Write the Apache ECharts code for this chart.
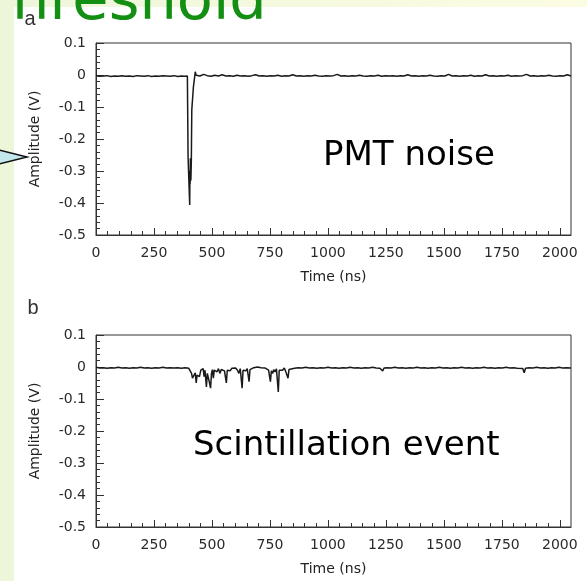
<!DOCTYPE html>
<html>
<head>
<meta charset="utf-8">
<script src="https://cdn.jsdelivr.net/npm/echarts@6/dist/echarts.min.js"></script>
<style>
html, body { margin: 0; padding: 0; }
#main { width: 587px; height: 581px; }
</style>
</head>
<body>
<div id="main"></div>
<script>
// ---- data ----
var majorTicks = [0, 250, 500, 750, 1000, 1250, 1500, 1750, 2000];
var minorTicks = [50, 100, 150, 200, 300, 350, 400, 450, 550, 600, 650, 700, 800, 850, 900, 950,
	1050, 1100, 1150, 1200, 1300, 1350, 1400, 1450, 1550, 1600, 1650, 1700, 1800, 1850, 1900, 1950];
var yTicks = [-0.5, -0.4, -0.3, -0.2, -0.1, 0, 0.1];

// panel a : PMT noise trace [time ns, amplitude V]
var pmtTrace = [
	[0,-0.002],[16,-0.004],[32,-0.003],[48,-0.002],[64,-0.005],[80,-0.003],[96,-0.004],[112,-0.002],
	[128,-0.004],[144,-0.003],[160,-0.005],[176,-0.002],[192,-0.003],[208,-0.004],[224,-0.002],[240,-0.005],
	[256,-0.003],[272,-0.004],[288,-0.002],[304,-0.003],[320,-0.004],[336,-0.002],[352,-0.005],[368,-0.003],
	[384,-0.004],[394,-0.003],[396,-0.004],[397,-0.256],[403,-0.258],[404,-0.406],[405,-0.30],[406,-0.34],
	[407,-0.26],[409,-0.33],[411,-0.27],[413,-0.109],[418,-0.105],[420,-0.037],[426,-0.04],[428,0.01],
	[432,-0.001],[448,-0.003],[464,0.002],[480,-0.002],[496,-0.004],[512,-0.001],[528,-0.003],[544,0.001],
	[560,-0.003],[576,-0.002],[592,-0.004],[608,-0.001],[624,-0.003],[640,-0.002],[656,-0.004],[672,-0.002],
	[688,0.001],[704,-0.003],[720,-0.002],[736,-0.004],[752,-0.002],[768,-0.003],[784,-0.001],[800,-0.004],
	[816,-0.002],[832,-0.003],[848,0.001],[864,-0.003],[880,-0.002],[896,-0.004],[912,-0.002],[928,-0.003],
	[944,-0.001],[960,-0.003],[976,-0.004],[992,-0.002],[1008,-0.003],[1024,-0.002],[1040,0.002],[1056,-0.003],
	[1072,-0.002],[1088,-0.004],[1104,-0.002],[1120,-0.003],[1136,-0.001],[1152,-0.003],[1168,-0.004],[1184,-0.002],
	[1200,-0.003],[1216,-0.001],[1232,-0.004],[1248,-0.002],[1264,-0.003],[1280,-0.002],[1296,-0.004],[1312,-0.002],
	[1328,-0.003],[1344,0.001],[1360,-0.003],[1376,-0.002],[1392,-0.004],[1408,-0.002],[1424,-0.003],[1440,-0.001],
	[1456,-0.003],[1472,-0.004],[1488,-0.002],[1504,-0.003],[1520,0.002],[1536,-0.003],[1552,-0.002],[1568,-0.004],
	[1584,-0.002],[1600,-0.003],[1616,-0.001],[1632,-0.004],[1648,-0.002],[1664,-0.003],[1680,0.001],[1696,-0.003],
	[1712,-0.002],[1728,-0.004],[1744,-0.002],[1760,-0.003],[1776,-0.001],[1792,-0.004],[1808,-0.002],[1824,-0.003],
	[1840,-0.002],[1856,0.002],[1872,-0.003],[1888,-0.002],[1904,-0.004],[1920,-0.002],[1936,-0.003],[1952,-0.001],
	[1968,-0.003],[1984,-0.004],[2000,-0.002],[2016,-0.003],[2032,0.001],[2048,-0.003]
];

// panel b : scintillation event trace [time ns, amplitude V]
var scintTrace = [
	[0,-0.001],[16,-0.003],[32,-0.002],[48,-0.004],[64,-0.002],[80,-0.003],[96,-0.001],[112,-0.003],
	[128,-0.002],[144,-0.004],[160,-0.002],[176,-0.003],[192,-0.001],[208,-0.003],[224,-0.002],[240,-0.004],
	[256,-0.002],[272,-0.003],[288,-0.001],[304,-0.003],[320,-0.002],[336,-0.003],[352,-0.002],[368,-0.004],
	[384,-0.002],[400,-0.004],[406,-0.012],[412,-0.02],[416,-0.035],[420,-0.03],[424,-0.036],[428,-0.018],
	[432,-0.05],[436,-0.025],[440,-0.02],[446,-0.03],[452,-0.01],[458,-0.015],[462,-0.005],[466,-0.03],
	[470,-0.01],[476,-0.062],[480,-0.02],[484,-0.015],[488,-0.045],[494,-0.066],[498,-0.02],[502,-0.008],
	[506,-0.035],[510,-0.01],[516,-0.004],[522,-0.015],[528,-0.005],[534,-0.02],[540,-0.008],[548,-0.004],
	[554,-0.012],[562,-0.05],[566,-0.01],[572,-0.006],[578,-0.012],[586,-0.004],[594,-0.008],[602,-0.003],
	[610,-0.01],[616,-0.02],[622,-0.005],[630,-0.066],[634,-0.01],[640,-0.006],[646,-0.012],[652,-0.005],
	[660,-0.046],[664,-0.008],[672,-0.004],[680,-0.002],[688,-0.006],[696,0.0],[704,-0.004],[712,-0.002],
	[720,-0.006],[728,-0.003],[736,-0.005],[744,-0.01],[752,-0.046],[756,-0.012],[762,-0.02],[766,-0.008],
	[772,-0.015],[778,-0.006],[786,-0.078],[790,-0.01],[796,-0.004],[804,-0.01],[812,-0.003],[820,-0.018],
	[828,-0.035],[832,-0.008],[840,-0.002],[856,-0.004],[872,-0.002],[888,-0.003],[904,-0.001],[920,-0.003],
	[936,-0.002],[952,-0.004],[968,-0.002],[984,-0.003],[1000,-0.001],[1016,-0.003],[1032,-0.002],[1048,-0.004],
	[1064,-0.002],[1080,-0.003],[1096,-0.001],[1112,-0.003],[1128,-0.002],[1144,-0.004],[1160,-0.002],[1176,-0.003],
	[1192,-0.001],[1208,-0.003],[1224,-0.004],[1236,-0.012],[1242,-0.003],[1256,-0.002],[1272,-0.003],[1288,-0.001],
	[1304,-0.003],[1320,-0.002],[1336,-0.004],[1352,-0.002],[1368,-0.003],[1384,-0.001],[1400,-0.003],[1416,-0.002],
	[1432,-0.004],[1448,-0.002],[1464,-0.003],[1480,-0.001],[1496,-0.003],[1512,-0.002],[1528,-0.004],[1544,-0.002],
	[1560,-0.003],[1576,-0.001],[1592,-0.003],[1608,-0.002],[1624,-0.004],[1640,-0.002],[1656,-0.003],[1672,-0.001],
	[1688,-0.003],[1704,-0.002],[1720,-0.004],[1736,-0.002],[1752,-0.003],[1768,-0.001],[1784,-0.003],[1800,-0.002],
	[1816,-0.004],[1840,-0.005],[1846,-0.018],[1852,-0.004],[1868,-0.002],[1884,-0.003],[1900,-0.001],[1916,-0.003],
	[1932,-0.002],[1948,-0.004],[1964,-0.002],[1980,-0.003],[1996,-0.001],[2012,-0.003],[2028,-0.002],[2048,-0.003]
];

var axisColor = '#333';
var labelFont = "'DejaVu Sans', sans-serif";
var letterFont = "'Liberation Sans', Arial, sans-serif";
var comicFont = "'Comic Sans MS', 'DejaVu Sans', sans-serif";

function fmtY(v){
	return (Math.round(v * 10) / 10).toString();
}
function fmtX(v){
	return String(Math.round(v));
}

var grids = [
	{ left: 96, top: 43, width: 475, height: 192, show: true, backgroundColor: '#fff', borderColor: axisColor, borderWidth: 1 },
	{ left: 96, top: 335, width: 475, height: 192, show: true, backgroundColor: '#fff', borderColor: axisColor, borderWidth: 1 }
];

var xAxes = [];
var yAxes = [];
for (var g = 0; g < 2; g++){
	// major ticks + labels
	xAxes.push({
		type: 'value', gridIndex: g, min: 0, max: 2048, position: 'bottom',
		name: 'Time (ns)', nameLocation: 'middle', nameGap: 35,
		nameTextStyle: { fontFamily: labelFont, fontSize: 14, color: '#222' },
		axisLine: { show: true, onZero: false, lineStyle: { color: axisColor, width: 1 } },
		axisTick: { show: true, inside: true, length: 7, customValues: majorTicks, lineStyle: { color: axisColor } },
		axisLabel: { customValues: majorTicks, margin: 11, fontFamily: labelFont, fontSize: 14, color: '#2a2a2a', formatter: fmtX },
		splitLine: { show: false }
	});
	// minor ticks
	xAxes.push({
		type: 'value', gridIndex: g, min: 0, max: 2048, position: 'bottom',
		axisLine: { show: false, onZero: false },
		axisTick: { show: true, inside: true, length: 4, customValues: minorTicks, lineStyle: { color: axisColor } },
		axisLabel: { show: false },
		splitLine: { show: false }
	});
	yAxes.push({
		type: 'value', gridIndex: g, min: -0.5, max: 0.1, interval: 0.1,
		name: 'Amplitude (V)', nameLocation: 'middle', nameGap: 54,
		nameTextStyle: { fontFamily: labelFont, fontSize: 14, color: '#222' },
		axisLine: { show: true, onZero: false, lineStyle: { color: axisColor, width: 1 } },
		axisTick: { show: true, inside: true, length: 8, lineStyle: { color: axisColor } },
		minorTick: { show: true, splitNumber: 5, length: 4, lineStyle: { color: axisColor } },
		axisLabel: { margin: 10, fontFamily: labelFont, fontSize: 14, color: '#2a2a2a', formatter: fmtY },
		splitLine: { show: false }
	});
}

var option = {
	animation: false,
	backgroundColor: {
		type: 'linear', x: 0, y: 0, x2: 1, y2: 0,
		colorStops: [ {offset: 0, color: '#eef6da'}, {offset: 1, color: '#fcfce4'} ]
	},
	grid: grids,
	xAxis: xAxes,
	yAxis: yAxes,
	series: [
		{ type: 'line', xAxisIndex: 0, yAxisIndex: 0, data: pmtTrace, showSymbol: false,
		  lineStyle: { color: '#1a1a1a', width: 1.5 } },
		{ type: 'line', xAxisIndex: 2, yAxisIndex: 1, data: scintTrace, showSymbol: false,
		  lineStyle: { color: '#1a1a1a', width: 1.5 } }
	],
	graphic: [
		// white figure page
		{ type: 'rect', z: -10, shape: { x: 14, y: 7, width: 573, height: 574 }, style: { fill: '#fff' } },
		// slide title, cut at the top
		{ type: 'text', z: 50, x: 12, y: 4, style: { text: 'hreshold', fontFamily: comicFont, fontSize: 59,
			fill: '#138f13', verticalAlign: 'middle' } },
		{ type: 'text', z: 51, x: 30, y: 19, style: { text: 'a', fontFamily: letterFont, fontSize: 20,
			fill: '#333', align: 'center', verticalAlign: 'middle' } },
		{ type: 'text', z: 51, x: 33, y: 308, style: { text: 'b', fontFamily: letterFont, fontSize: 20,
			fill: '#333', align: 'center', verticalAlign: 'middle' } },
		// callout arrow from the slide
		{ type: 'polygon', z: 50, shape: { points: [[-5, 149], [27, 157], [-5, 165]] },
		  style: { fill: '#c4e9ec', stroke: '#111', lineWidth: 1.5 } },
		{ type: 'text', z: 50, x: 323, y: 156, style: { text: 'PMT noise', fontFamily: comicFont, fontSize: 34,
			fill: '#000', verticalAlign: 'middle' } },
		{ type: 'text', z: 50, x: 193, y: 446, style: { text: 'Scintillation event', fontFamily: comicFont, fontSize: 34,
			fill: '#000', verticalAlign: 'middle' } }
	]
};

var chart = echarts.init(document.getElementById('main'));
chart.setOption(option);
</script>
</body>
</html>
